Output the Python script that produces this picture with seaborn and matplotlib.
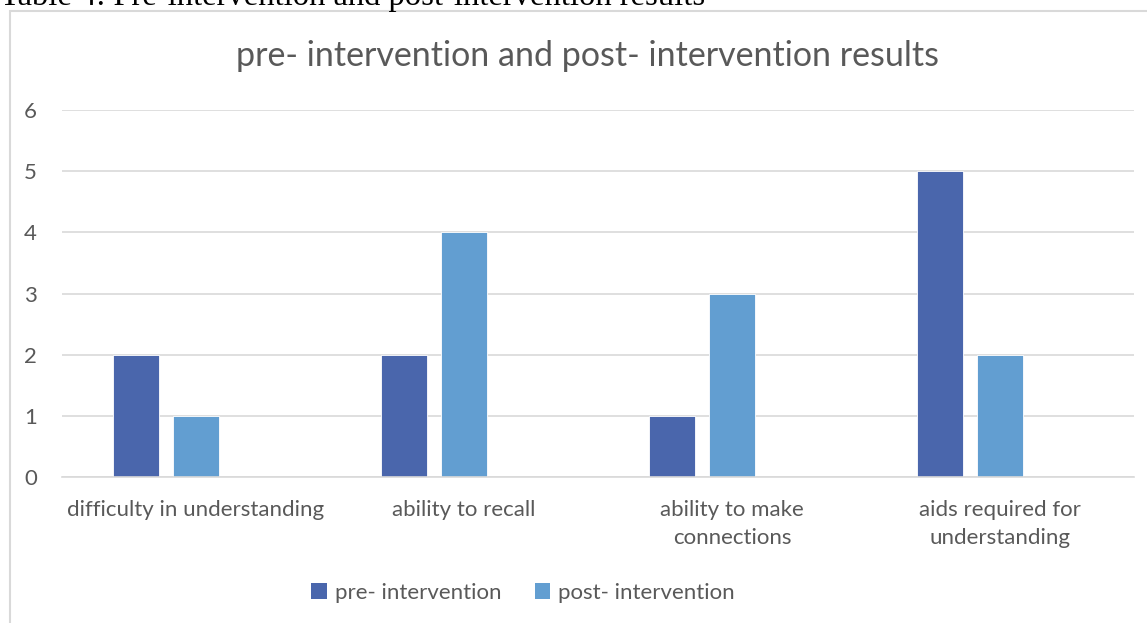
import pandas as pd
import seaborn as sns
import matplotlib.pyplot as plt
from matplotlib.patches import Patch, Rectangle

# data
categories = ["difficulty in understanding", "ability to recall",
              "ability to make\nconnections", "aids required for\nunderstanding"]
pre_values = [2, 2, 1, 5]
post_values = [1, 4, 3, 2]
series = ["pre- intervention", "post- intervention"]
colors = ["#4A66AC", "#629ED1"]

# long form table for seaborn; third empty level keeps the Excel-like slot
df = pd.DataFrame({
    "category": categories * 2,
    "value": pre_values + post_values,
    "series": [series[0]] * 4 + [series[1]] * 4,
})
hue_order = series + [" "]
palette = {series[0]: colors[0], series[1]: colors[1], " ": "white"}

sns.set_style("white")
plt.rcParams["font.family"] = ["Lato", "DejaVu Sans"]
text_col = "#595959"
grid_col = "#D9D9D9"

fig = plt.figure(figsize=(11.47, 6.23), dpi=100)
ax = fig.add_axes([62 / 1147, 1 - 477 / 623, (1134 - 62) / 1147, (477 - 110) / 623])

sns.barplot(data=df, x="category", y="value", hue="series", hue_order=hue_order,
            palette=palette, order=categories, width=0.672, gap=0.233,
            saturation=1, legend=False, ax=ax, errorbar=None, linewidth=0.6)
for p in ax.patches:
    p.set_edgecolor("white")
    p.set_alpha(1)

ax.set_ylim(0, 6)
ax.set_xlim(-0.5, len(categories) - 0.5)
ax.set_yticks(range(7))
ax.yaxis.grid(True, color=grid_col, linewidth=1.2)
ax.set_axisbelow(True)
for s in ["top", "right", "left"]:
    ax.spines[s].set_visible(False)
ax.spines["bottom"].set_color(grid_col)
ax.spines["bottom"].set_linewidth(1.2)
ax.tick_params(axis="both", length=0, labelsize=16, colors=text_col)
ax.tick_params(axis="y", pad=18)
ax.tick_params(axis="x", pad=16.5)
for lbl in ax.get_xticklabels():
    lbl.set_linespacing(1.5)
ax.set_xlabel("")
ax.set_ylabel("")

fig.text(587 / 1147, 1 - 56 / 623, "pre- intervention and post- intervention results",
         ha="center", va="center", fontsize=24.5, color=text_col)

handles = [Patch(facecolor=c, edgecolor="none") for c in colors]
fig.legend(handles, series, loc="center", bbox_to_anchor=(523 / 1147, 1 - 593 / 623),
           ncol=2, frameon=False, fontsize=16, labelcolor=text_col,
           handlelength=0.7, handleheight=0.7, handletextpad=0.35, columnspacing=1.5)

# outer chart frame and the cropped caption above it
fig.patches.append(Rectangle((10 / 1147, -0.1), 1.2, 1 - 11 / 623 + 0.1,
                             transform=fig.transFigure, fill=False,
                             edgecolor=grid_col, linewidth=1.5))
fig.text(0, 1 - 5 / 623, "Table 4: Pre-intervention and post-intervention results",
         ha="left", va="baseline", fontsize=23.5, family="Liberation Serif", color="black")

fig.savefig("out.png", dpi=100)
